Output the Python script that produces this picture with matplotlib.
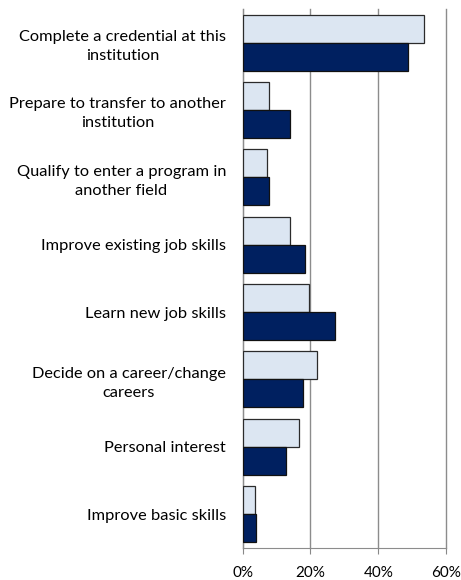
import numpy as np
import matplotlib
matplotlib.use("Agg")
from matplotlib import pyplot as plt
from matplotlib.ticker import FuncFormatter

categories = [
    "Complete a credential at this\ninstitution",
    "Prepare to transfer to another\ninstitution",
    "Qualify to enter a program in\nanother field",
    "Improve existing job skills",
    "Learn new job skills",
    "Decide on a career/change\ncareers",
    "Personal interest",
    "Improve basic skills",
]
series_light = [53.6, 7.8, 7.1, 14.0, 19.5, 22.0, 16.6, 3.6]
series_dark = [48.8, 14.0, 7.7, 18.5, 27.2, 17.8, 12.8, 3.8]
xticks = [0, 20, 40, 60]

plt.rcParams['font.family'] = ['Lato', 'DejaVu Sans']

fig = plt.figure(figsize=(4.61, 5.80), dpi=100)
ax = fig.add_axes([0.5265, 0.0557, 0.441, 0.9288])

y = np.arange(len(categories))
h = 0.415
ax.barh(y - h / 2, series_light, height=h, color="#DCE6F2",
        edgecolor="#2b2b2b", linewidth=0.9, zorder=3)
ax.barh(y + h / 2, series_dark, height=h, color="#002060",
        edgecolor="#111111", linewidth=0.9, zorder=3)

ax.set_ylim(len(categories) - 0.5, -0.5)
ax.set_xlim(0, 60)
ax.set_xticks(xticks)
ax.xaxis.set_major_formatter(FuncFormatter(lambda v, p: "%d%%" % v))
ax.set_yticks(y)
ax.set_yticklabels(categories, multialignment="center", fontsize=11.8,
                   linespacing=1.45)
ax.tick_params(axis="y", length=0, pad=12)
ax.tick_params(axis="x", length=4, color="#888888", labelsize=11, pad=9)

ax.grid(axis="x", color="#8c8c8c", linewidth=1, zorder=0)
for line in ax.get_xgridlines():
    line.set_clip_on(False)
for s in ["top", "right"]:
    ax.spines[s].set_visible(False)
ax.spines["left"].set_color("#8c8c8c")
ax.spines["bottom"].set_color("#8c8c8c")

fig.savefig("out.png", dpi=100)
